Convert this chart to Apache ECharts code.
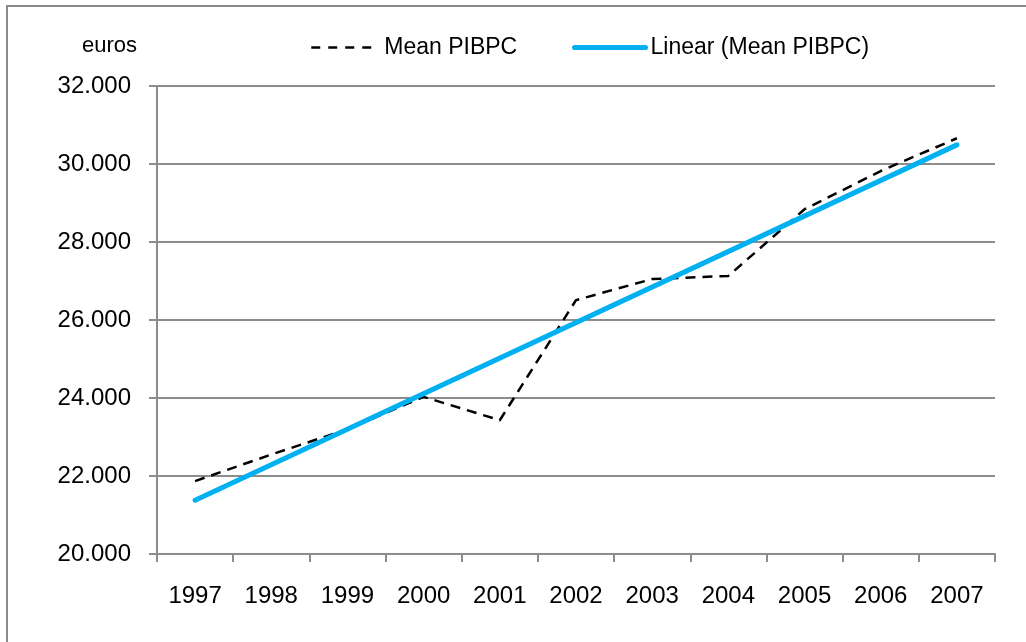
<!DOCTYPE html>
<html>
<head>
<meta charset="utf-8">
<title>Mean PIBPC</title>
<script src="https://cdn.jsdelivr.net/npm/echarts@6/dist/echarts.min.js"></script>
<style>
  html, body { margin: 0; padding: 0; background: #ffffff; }
  #chart { width: 1026px; height: 642px; }
</style>
</head>
<body>
<div id="chart"></div>
<script>
// Years on the category axis
const years = ['1997', '1998', '1999', '2000', '2001', '2002', '2003', '2004', '2005', '2006', '2007'];
// Mean GDP per capita (euros)
const meanPibpc = [21870, 22550, 23200, 24030, 23430, 26510, 27050, 27130, 28840, 29820, 30660];
// Linear trend line: values at the first and last year
const trendFirst = 21380;
const trendLast = 30490;
// Value axis range
const yMin = 20000;
const yMax = 32000;
const yStep = 2000;

const trendData = years.map((_, i) => i === 0 ? trendFirst : (i === years.length - 1 ? trendLast : null));

const FONT = '"Liberation Sans", Arial, sans-serif';
const GRAY = '#8c8c8c';
const BLUE = '#00b0f0';

const chart = echarts.init(document.getElementById('chart'), null, { renderer: 'canvas' });

chart.setOption({
  animation: false,
  backgroundColor: '#ffffff',
  grid: { left: 157, right: 31, top: 86, bottom: 88, containLabel: false },
  graphic: [
    {
      type: 'rect',
      shape: { x: 7, y: 6, width: 1040, height: 660 },
      style: { fill: 'none', stroke: '#8a8a8a', lineWidth: 2 },
      silent: true
    },
    {
      type: 'text',
      left: 82,
      top: 35,
      style: { text: 'euros', font: '22px ' + FONT, fill: '#000000' }
    }
  ],
  legend: [
    {
      data: ['Mean PIBPC'],
      left: 305,
      top: 31,
      itemWidth: 63,
      itemHeight: 14,
      itemStyle: { opacity: 0 },
      lineStyle: { color: '#000000', width: 2.5, type: [9, 8] },
      textStyle: { fontFamily: FONT, fontSize: 23, color: '#000', padding: [0, 0, 0, 5] }
    },
    {
      data: ['Linear (Mean PIBPC)'],
      left: 567,
      top: 31,
      itemWidth: 71,
      itemHeight: 14,
      itemStyle: { opacity: 0 },
      lineStyle: { color: BLUE, width: 5, cap: 'round' },
      textStyle: { fontFamily: FONT, fontSize: 23, color: '#000' }
    }
  ],
  xAxis: {
    type: 'category',
    data: years,
    boundaryGap: true,
    axisLine: { lineStyle: { color: GRAY, width: 2 } },
    axisTick: { show: true, length: 8, lineStyle: { color: GRAY, width: 2 } },
    axisLabel: { fontFamily: FONT, fontSize: 24, color: '#000', margin: 30 }
  },
  yAxis: {
    type: 'value',
    min: yMin,
    max: yMax,
    interval: yStep,
    axisLine: { show: true, lineStyle: { color: GRAY, width: 2 } },
    axisTick: { show: true, length: 8, lineStyle: { color: GRAY, width: 2 } },
    splitLine: { show: true, lineStyle: { color: GRAY, width: 2 } },
    axisLabel: {
      fontFamily: FONT, fontSize: 24, color: '#000', margin: 26,
      formatter: v => v.toString().replace(/\B(?=(\d{3})+(?!\d))/g, '.')
    }
  },
  series: [
    {
      name: 'Mean PIBPC',
      type: 'line',
      data: meanPibpc,
      symbol: 'none',
      lineStyle: { color: '#000000', width: 2.5, type: [10, 7] },
      itemStyle: { color: '#000000' },
      z: 3
    },
    {
      name: 'Linear (Mean PIBPC)',
      type: 'line',
      data: trendData,
      connectNulls: true,
      symbol: 'none',
      lineStyle: { color: BLUE, width: 5, cap: 'round' },
      itemStyle: { color: BLUE },
      z: 4
    }
  ]
});
</script>
</body>
</html>
